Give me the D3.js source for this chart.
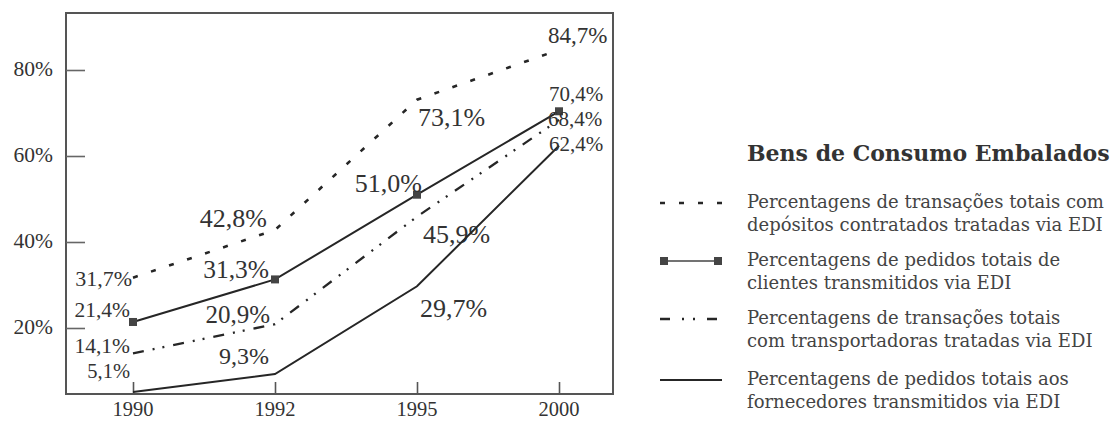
<!DOCTYPE html>
<html>
<head>
<meta charset="utf-8">
<script src="https://cdn.jsdelivr.net/npm/d3@7"></script>
<style>
  html, body { margin: 0; padding: 0; background: #fff; }
  svg { display: block; }
  text { font-family: "DejaVu Serif", serif; }
  .num { font-family: "Liberation Serif", "DejaVu Serif", serif; }
</style>
</head>
<body>
<svg id="chart" width="1115" height="422"></svg>
<script>
// ---- data ----
const years = ["1990", "1992", "1995", "2000"];
const depositos = [31.7, 42.8, 73.1, 84.7];        // transações com depósitos contratados
const clientes = [21.4, 31.3, 51.0, 70.4];         // pedidos de clientes
const transportadoras = [14.1, 20.9, 45.9, 68.4];  // transações com transportadoras
const fornecedores = [5.1, 9.3, 29.7, 62.4];       // pedidos aos fornecedores
const yTicks = [20, 40, 60, 80];
const legendTitle = "Bens de Consumo Embalados";
const legendLabels = [
  ["Percentagens de transações totais com", "depósitos contratados tratadas via EDI"],
  ["Percentagens de pedidos totais de", "clientes transmitidos via EDI"],
  ["Percentagens de transações totais", "com transportadoras tratadas via EDI"],
  ["Percentagens de pedidos totais aos", "fornecedores transmitidos via EDI"]
];

// ---- layout ----
const frame = { left: 66, right: 613, top: 13, bottom: 394 };
const ink = "#262626";
const textInk = "#333";

const svg = d3.select("#chart");

const x = d3.scalePoint().domain(years).range([133, 559]);
const y = d3.scaleLinear().domain([0, 100]).range([414, -16]);

const pct = v => d3.format(".1f")(v).replace(".", ",") + "%";

// series styling and value-label placement: [dx, dy, anchor, font size]
const series = [
  { values: depositos, dash: "5,14", width: 2.6, squares: false,
    labels: [[-1, 8, "end", 22], [-8, -3, "end", 26], [1, 26, "start", 26], [-11, -7, "start", 23]] },
  { values: clientes, dash: null, width: 2, squares: true,
    labels: [[-3, -5, "end", 21.5], [-6, -1, "end", 25.5], [5, -3, "end", 26], [-10, -10, "start", 21]] },
  { values: transportadoras, dash: "11,9,2,8,2,9", width: 2.3, squares: false,
    labels: [[-3, 0, "end", 21.5], [-5, -1, "end", 25], [6, 26, "start", 26], [-11, 6, "start", 21]] },
  { values: fornecedores, dash: null, width: 2, squares: false,
    labels: [[-3, -14, "end", 20.5], [-6, -10, "end", 24], [3, 31, "start", 26], [-10, 5, "start", 21]] }
];

// ---- frame ----
svg.append("rect")
  .attr("x", frame.left).attr("y", frame.top)
  .attr("width", frame.right - frame.left)
  .attr("height", frame.bottom - frame.top)
  .attr("fill", "none").attr("stroke", "#555").attr("stroke-width", 2);

// y axis: short inward ticks, labels outside the frame
const yAxis = d3.axisRight(y).tickValues(yTicks).tickSize(19).tickFormat("");
const yG = svg.append("g").attr("transform", `translate(${frame.left},0)`).call(yAxis);
yG.select(".domain").remove();
yG.selectAll(".tick line").attr("stroke", "#666").attr("stroke-width", 1.6);

svg.append("g").selectAll("text").data(yTicks).join("text")
  .attr("class", "num")
  .attr("x", 53).attr("y", d => y(d) + 6)
  .attr("text-anchor", "end")
  .attr("font-size", 21.5).attr("fill", textInk)
  .text(d => d + "%");

// x axis: inward ticks on the bottom edge
const xAxis = d3.axisTop(x).tickSize(12).tickFormat("");
const xG = svg.append("g").attr("transform", `translate(0,${frame.bottom})`).call(xAxis);
xG.select(".domain").remove();
xG.selectAll(".tick line").attr("stroke", "#555").attr("stroke-width", 1.6);

svg.append("g").selectAll("text").data(years).join("text")
  .attr("class", "num")
  .attr("x", d => x(d)).attr("y", 416)
  .attr("text-anchor", "middle")
  .attr("font-size", 20.5).attr("fill", textInk)
  .text(d => d);

// ---- series ----
const line = d3.line().x((d, i) => x(years[i])).y(d => y(d));

series.forEach(s => {
  svg.append("path")
    .datum(s.values)
    .attr("d", line)
    .attr("fill", "none")
    .attr("stroke", ink)
    .attr("stroke-width", s.width)
    .attr("stroke-dasharray", s.dash);

  if (s.squares) {
    svg.append("g").selectAll("rect").data(s.values).join("rect")
      .attr("x", (d, i) => x(years[i]) - 4)
      .attr("y", d => y(d) - 4)
      .attr("width", 8).attr("height", 8)
      .attr("fill", "#444");
  }

  svg.append("g").selectAll("text").data(s.values).join("text")
    .attr("class", "num")
    .attr("x", (d, i) => x(years[i]) + s.labels[i][0])
    .attr("y", (d, i) => y(d) + s.labels[i][1])
    .attr("text-anchor", (d, i) => s.labels[i][2])
    .attr("font-size", (d, i) => s.labels[i][3])
    .attr("fill", textInk)
    .text(d => pct(d));
});

// ---- legend ----
const legend = svg.append("g");
legend.append("text")
  .attr("x", 747).attr("y", 161)
  .attr("font-size", 22).attr("font-weight", "bold").attr("fill", "#333")
  .text(legendTitle);

const entryBaselines = [208, 266, 324, 385];
legendLabels.forEach((lines, k) => {
  const by = entryBaselines[k];
  const s = series[k];
  const sy = by - 5;
  legend.append("line")
    .attr("x1", s.squares ? 664 : 660).attr("x2", s.squares ? 718 : 722)
    .attr("y1", sy).attr("y2", sy)
    .attr("stroke", s.squares ? "#444" : ink)
    .attr("stroke-width", s.squares ? 1.6 : s.width)
    .attr("stroke-dasharray", k === 0 ? "5,14" : k === 2 ? "10,12,2,9,2,12" : null);
  if (s.squares) {
    legend.selectAll(null).data([664, 718]).join("rect")
      .attr("x", d => d - 4).attr("y", sy - 4)
      .attr("width", 8).attr("height", 8)
      .attr("fill", "#444");
  }
  lines.forEach((t, j) => {
    legend.append("text")
      .attr("x", 747).attr("y", by + j * 23)
      .attr("font-size", 18).attr("fill", "#444")
      .text(t);
  });
});
</script>
</body>
</html>
